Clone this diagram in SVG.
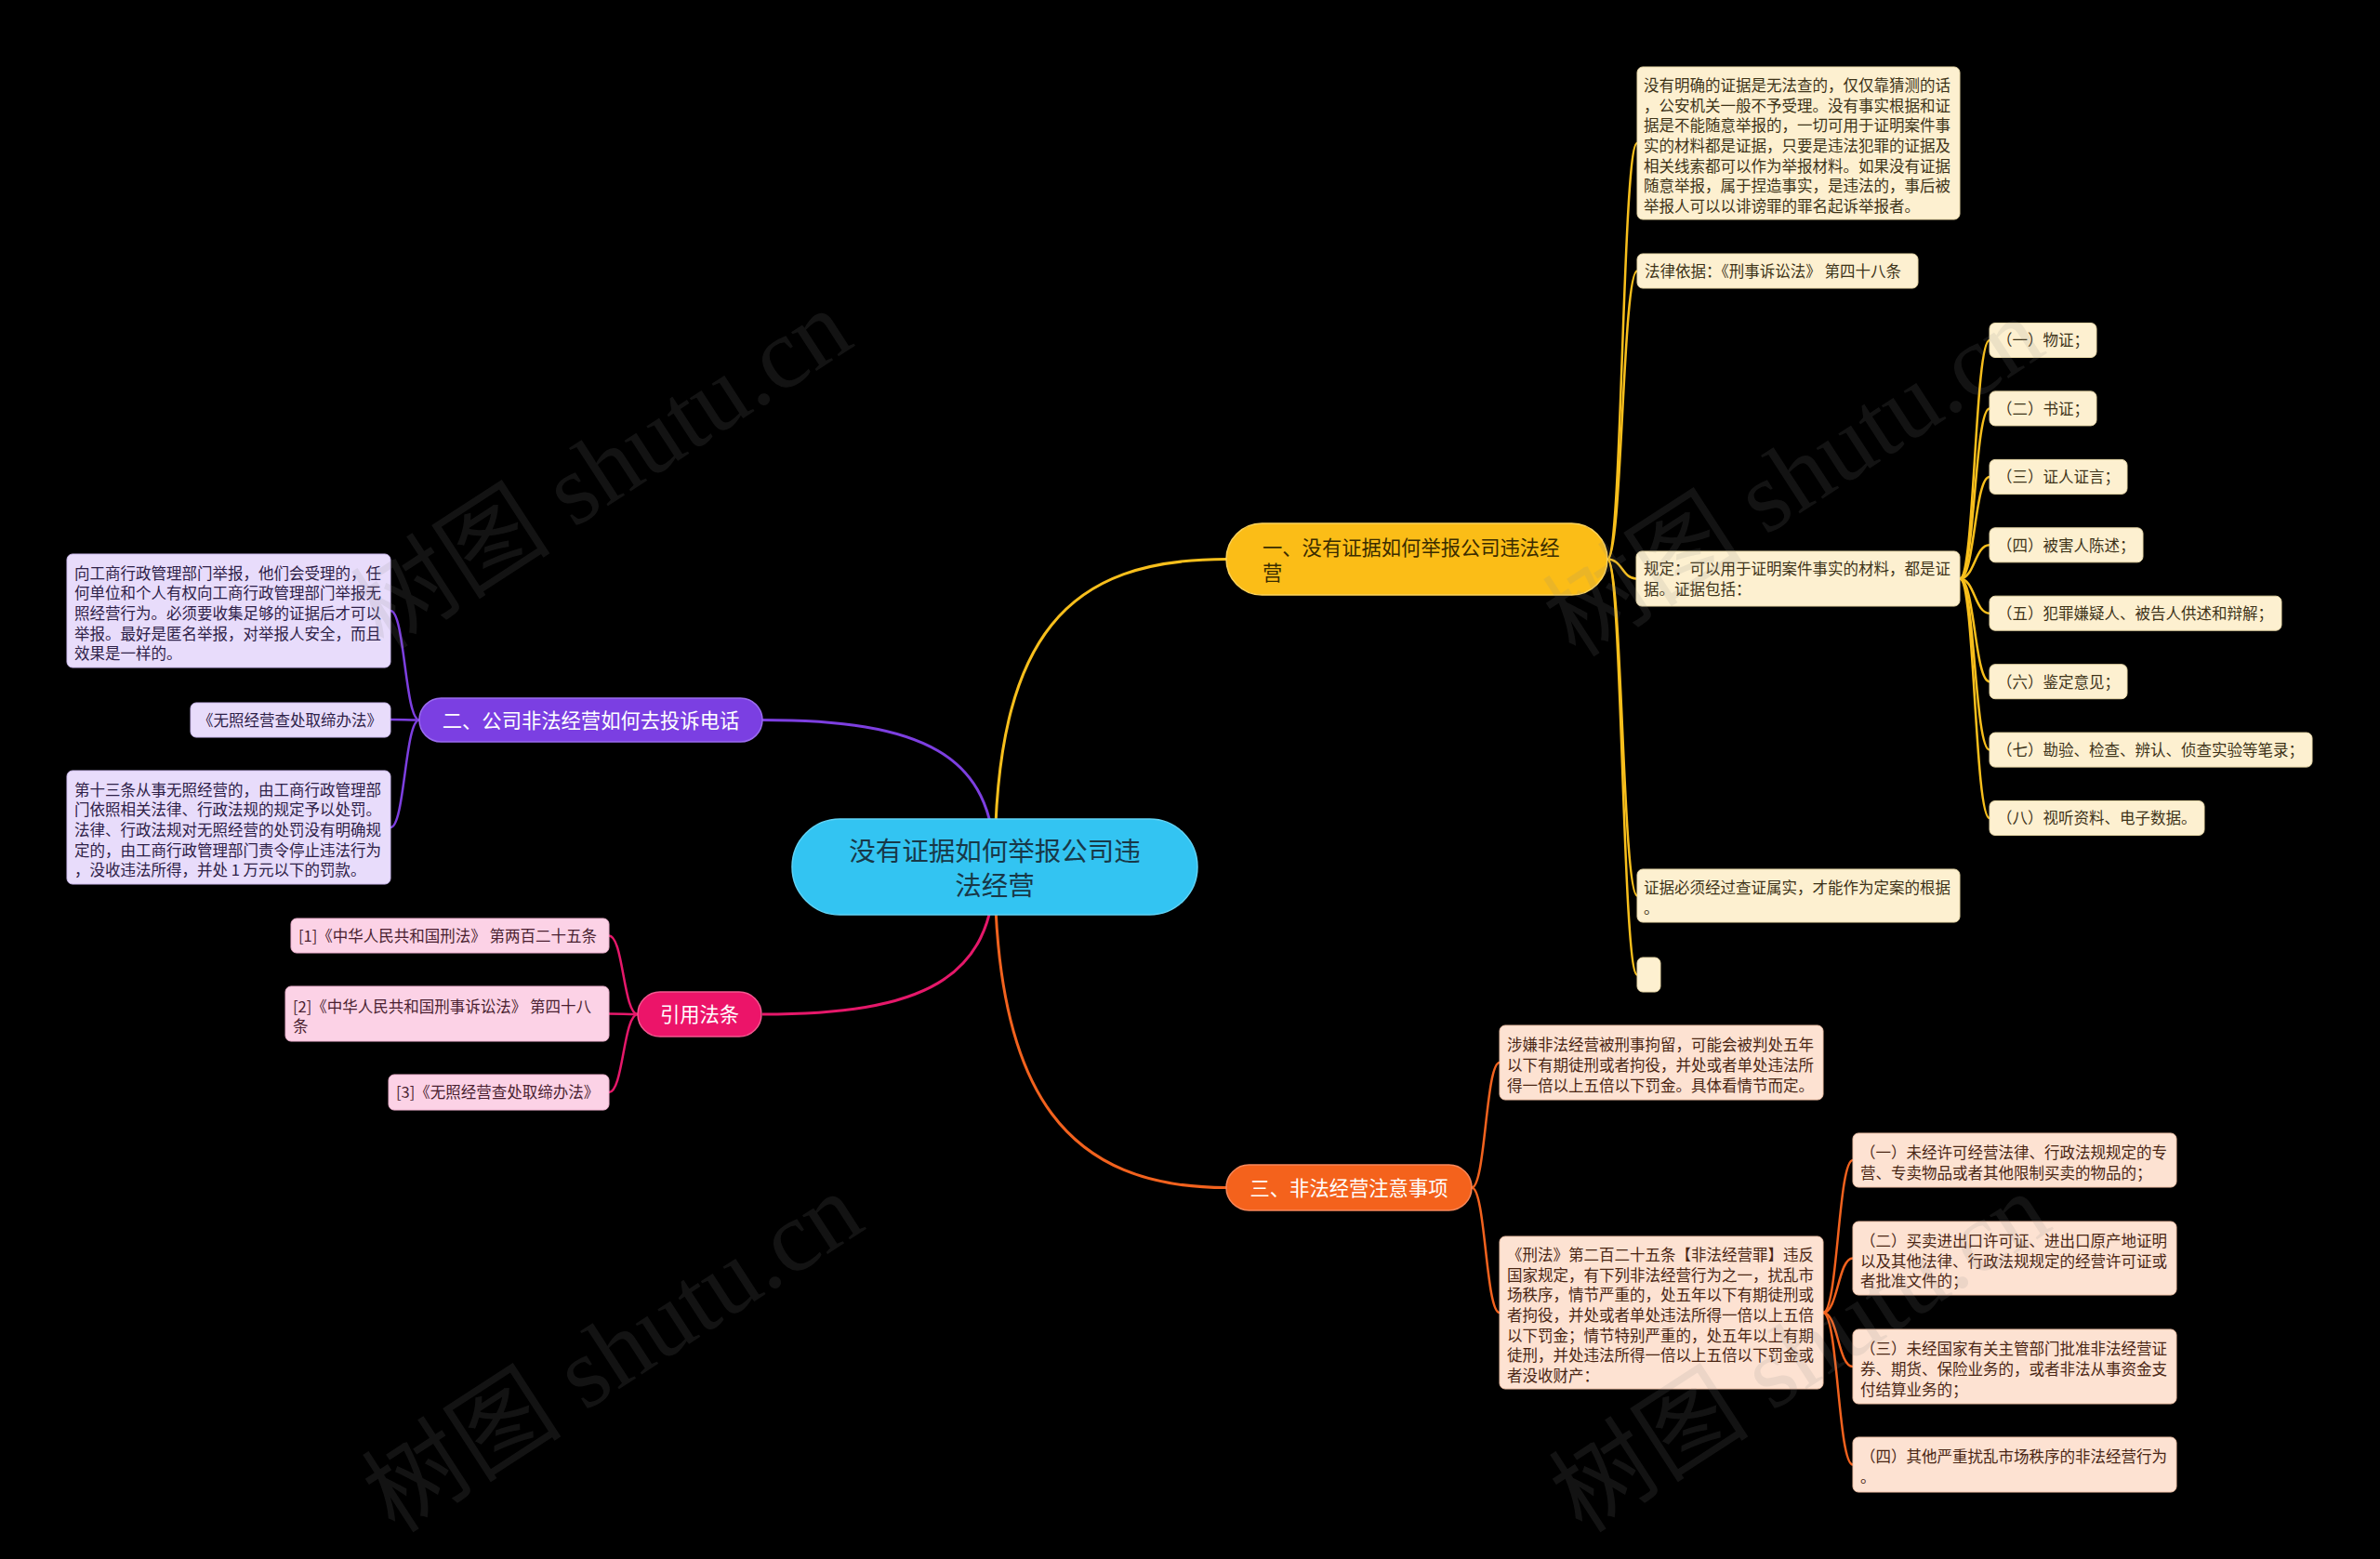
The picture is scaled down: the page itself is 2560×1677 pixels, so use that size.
<svg xmlns="http://www.w3.org/2000/svg" width="2560" height="1677" viewBox="0 0 2560 1677">
<style>
text{font-family:"Noto Sans CJK SC","Noto Sans",sans-serif;}
.s{font-size:16.5px;}
.m{font-size:21.3px;}
.yb{fill:#fdf0d0;stroke:#e8d8a8;stroke-width:1;}
.pb{fill:#e8dcfb;stroke:#cdbbef;stroke-width:1;}
.kb{fill:#fcd2e6;stroke:#eeb2cf;stroke-width:1;}
.ob{fill:#fde2d2;stroke:#f0c2a8;stroke-width:1;}
.yt{fill:#3d3318;}
.pt{fill:#2e2148;}
.kt{fill:#4a1f30;}
.ot{fill:#4a2614;}
.wt{fill:#ffffff;}
.cy{fill:none;stroke:#f8bf1c;stroke-width:2.5;}
.cp{fill:none;stroke:#7d3fe0;stroke-width:2.5;}
.ck{fill:none;stroke:#e5186a;stroke-width:2.5;}
.co{fill:none;stroke:#f2621e;stroke-width:2.5;}
.wm{font-family:"Liberation Serif","Noto Sans CJK SC",serif;font-size:108px;fill:#8a8a8a;opacity:0.14;}
</style>
<rect x="0" y="0" width="2560" height="1677" fill="#000000"/>

<g id="connectors">
  <path class="cy" style="stroke-width:3" d="M1070 932 C1070 680 1150 601.5 1319 601.5"/>
  <path class="cp" style="stroke-width:3" d="M1070 932 C1070 810 990 774.5 820 774.5"/>
  <path class="ck" style="stroke-width:3" d="M1070 932 C1070 1055 990 1091 820 1091"/>
  <path class="co" style="stroke-width:3" d="M1070 932 C1070 1180 1150 1277.5 1319 1277.5"/>

  <path class="cy" d="M1729 601.5 C1745 601.5 1745 154 1761 154"/>
  <path class="cy" d="M1729 601.5 C1745 601.5 1745 291.5 1761 291.5"/>
  <path class="cy" d="M1729 601.5 C1745 601.5 1745 622.5 1760 622.5"/>
  <path class="cy" d="M1729 601.5 C1745 601.5 1745 963.5 1761 963.5"/>
  <path class="cy" d="M1729 601.5 C1745 601.5 1745 1048.5 1761 1048.5"/>

  <path class="cy" d="M2108 622.5 C2124 622.5 2124 366 2140 366"/>
  <path class="cy" d="M2108 622.5 C2124 622.5 2124 439.4 2140 439.4"/>
  <path class="cy" d="M2108 622.5 C2124 622.5 2124 512.9 2140 512.9"/>
  <path class="cy" d="M2108 622.5 C2124 622.5 2124 586.3 2140 586.3"/>
  <path class="cy" d="M2108 622.5 C2124 622.5 2124 659.7 2140 659.7"/>
  <path class="cy" d="M2108 622.5 C2124 622.5 2124 733.2 2140 733.2"/>
  <path class="cy" d="M2108 622.5 C2124 622.5 2124 806.6 2140 806.6"/>
  <path class="cy" d="M2108 622.5 C2124 622.5 2124 880 2140 880"/>

  <path class="cp" d="M451 774.5 C435.5 774.5 435.5 657 420 657"/>
  <path class="cp" d="M451 774.5 C435.5 774.5 435.5 774 420 774"/>
  <path class="cp" d="M451 774.5 C435.5 774.5 435.5 890 420 890"/>

  <path class="ck" d="M686 1091 C670.5 1091 670.5 1006.5 655 1006.5"/>
  <path class="ck" d="M686 1091 C670.5 1091 670.5 1090.5 655 1090.5"/>
  <path class="ck" d="M686 1091 C670.5 1091 670.5 1175 655 1175"/>

  <path class="co" d="M1583 1277.5 C1598 1277.5 1598 1143 1613 1143"/>
  <path class="co" d="M1583 1277.5 C1598 1277.5 1598 1412 1613 1412"/>

  <path class="co" d="M1961 1412 C1977 1412 1977 1248 1993 1248"/>
  <path class="co" d="M1961 1412 C1977 1412 1977 1353.5 1993 1353.5"/>
  <path class="co" d="M1961 1412 C1977 1412 1977 1470 1993 1470"/>
  <path class="co" d="M1961 1412 C1977 1412 1977 1575.5 1993 1575.5"/>
</g>

<g id="root">
  <rect x="852" y="881" width="436" height="103" rx="51.5" fill="#33c4f2" stroke="#5fd3f6" stroke-width="1.5"/>
  <text x="1070" text-anchor="middle" style="font-size:28.5px;fill:#183848"><tspan x="1070" y="926">没有证据如何举报公司违</tspan><tspan x="1070" y="963">法经营</tspan></text>
</g>

<g id="b1">
  <rect x="1319" y="563" width="410" height="77" rx="38.5" fill="#fbbd17" stroke="#fdd35a" stroke-width="1.5"/>
  <text class="m" x="1358" y="597" style="fill:#3a2c00">一、没有证据如何举报公司违法经</text>
  <text class="m" x="1358" y="624" style="fill:#3a2c00">营</text>
</g>
<g id="b1c1">
  <rect class="yb" x="1761" y="72" width="347" height="164" rx="6"/>
  <text class="s yt"><tspan x="1768" y="98">没有明确的证据是无法查的，仅仅靠猜测的话</tspan><tspan x="1768" y="119.7">，公安机关一般不予受理。没有事实根据和证</tspan><tspan x="1768" y="141.3">据是不能随意举报的，一切可用于证明案件事</tspan><tspan x="1768" y="163">实的材料都是证据，只要是违法犯罪的证据及</tspan><tspan x="1768" y="184.7">相关线索都可以作为举报材料。如果没有证据</tspan><tspan x="1768" y="206.3">随意举报，属于捏造事实，是违法的，事后被</tspan><tspan x="1768" y="228">举报人可以以诽谤罪的罪名起诉举报者。</tspan></text>
</g>
<g id="b1c2">
  <rect class="yb" x="1761" y="273" width="302" height="37" rx="6"/>
  <text class="s yt" x="1769" y="298">法律依据：《刑事诉讼法》 第四十八条</text>
</g>
<g id="b1c3">
  <rect class="yb" x="1760" y="593" width="348" height="59" rx="6"/>
  <text class="s yt"><tspan x="1768" y="618">规定：可以用于证明案件事实的材料，都是证</tspan><tspan x="1768" y="639.7">据。证据包括：</tspan></text>
</g>
<g id="b1c3a">
  <rect class="yb" x="2140" y="347.5" width="115" height="37" rx="6"/>
  <text class="s yt" x="2148" y="372.3">（一）物证；</text>
</g>
<g id="b1c3b">
  <rect class="yb" x="2140" y="420.9" width="115" height="37" rx="6"/>
  <text class="s yt" x="2148" y="445.7">（二）书证；</text>
</g>
<g id="b1c3c">
  <rect class="yb" x="2140" y="494.4" width="148" height="37" rx="6"/>
  <text class="s yt" x="2148" y="519.2">（三）证人证言；</text>
</g>
<g id="b1c3d">
  <rect class="yb" x="2140" y="567.8" width="165" height="37" rx="6"/>
  <text class="s yt" x="2148" y="592.6">（四）被害人陈述；</text>
</g>
<g id="b1c3e">
  <rect class="yb" x="2140" y="641.2" width="314" height="37" rx="6"/>
  <text class="s yt" x="2148" y="666">（五）犯罪嫌疑人、被告人供述和辩解；</text>
</g>
<g id="b1c3f">
  <rect class="yb" x="2140" y="714.7" width="148" height="37" rx="6"/>
  <text class="s yt" x="2148" y="739.5">（六）鉴定意见；</text>
</g>
<g id="b1c3g">
  <rect class="yb" x="2140" y="788.1" width="347" height="37" rx="6"/>
  <text class="s yt" x="2148" y="812.9">（七）勘验、检查、辨认、侦查实验等笔录；</text>
</g>
<g id="b1c3h">
  <rect class="yb" x="2140" y="861.5" width="231" height="37" rx="6"/>
  <text class="s yt" x="2148" y="886.3">（八）视听资料、电子数据。</text>
</g>
<g id="b1c4">
  <rect class="yb" x="1761" y="935" width="347" height="57" rx="6"/>
  <text class="s yt"><tspan x="1768" y="961">证据必须经过查证属实，才能作为定案的根据</tspan><tspan x="1768" y="982.7">。</tspan></text>
</g>
<g id="b1c5">
  <rect class="yb" x="1761" y="1030" width="25" height="37" rx="6"/>
</g>

<g id="b2">
  <rect x="451" y="751" width="369" height="47" rx="23.5" fill="#7b3fe2" stroke="#9a6bef" stroke-width="1.5"/>
  <text class="m wt" x="635.5" y="782.6" text-anchor="middle">二、公司非法经营如何去投诉电话</text>
</g>
<g id="b2c1">
  <rect class="pb" x="72" y="596" width="348" height="122" rx="6"/>
  <text class="s pt"><tspan x="80" y="622.6">向工商行政管理部门举报，他们会受理的，任</tspan><tspan x="80" y="644.3">何单位和个人有权向工商行政管理部门举报无</tspan><tspan x="80" y="666">照经营行为。必须要收集足够的证据后才可以</tspan><tspan x="80" y="687.6">举报。最好是匿名举报，对举报人安全，而且</tspan><tspan x="80" y="709.3">效果是一样的。</tspan></text>
</g>
<g id="b2c2">
  <rect class="pb" x="205" y="756" width="215" height="37" rx="6"/>
  <text class="s pt" x="213" y="780.5">《无照经营查处取缔办法》</text>
</g>
<g id="b2c3">
  <rect class="pb" x="72" y="829" width="348" height="122" rx="6"/>
  <text class="s pt"><tspan x="80" y="855.6">第十三条从事无照经营的，由工商行政管理部</tspan><tspan x="80" y="877.3">门依照相关法律、行政法规的规定予以处罚。</tspan><tspan x="80" y="899">法律、行政法规对无照经营的处罚没有明确规</tspan><tspan x="80" y="920.6">定的，由工商行政管理部门责令停止违法行为</tspan><tspan x="80" y="942.3">，没收违法所得，并处 1 万元以下的罚款。</tspan></text>
</g>

<g id="b4">
  <rect x="686" y="1067" width="133" height="48" rx="24" fill="#ec1469" stroke="#f2578f" stroke-width="1.5"/>
  <text class="m wt" x="752.5" y="1099" text-anchor="middle">引用法条</text>
</g>
<g id="b4c1">
  <rect class="kb" x="313" y="988" width="342" height="37" rx="6"/>
  <text class="s kt" x="321" y="1012.8">[1]《中华人民共和国刑法》 第两百二十五条</text>
</g>
<g id="b4c2">
  <rect class="kb" x="307" y="1061" width="348" height="59" rx="6"/>
  <text class="s kt"><tspan x="315" y="1088.7">[2]《中华人民共和国刑事诉讼法》 第四十八</tspan><tspan x="315" y="1110.3">条</tspan></text>
</g>
<g id="b4c3">
  <rect class="kb" x="418" y="1156" width="237" height="38" rx="6"/>
  <text class="s kt" x="426" y="1181.3">[3]《无照经营查处取缔办法》</text>
</g>

<g id="b3">
  <rect x="1319" y="1253" width="264" height="49" rx="24.5" fill="#f4621c" stroke="#f7875a" stroke-width="1.5"/>
  <text class="m wt" x="1451" y="1285.6" text-anchor="middle">三、非法经营注意事项</text>
</g>
<g id="b3c1">
  <rect class="ob" x="1613" y="1103" width="348" height="80" rx="6"/>
  <text class="s ot"><tspan x="1621" y="1130.3">涉嫌非法经营被刑事拘留，可能会被判处五年</tspan><tspan x="1621" y="1152">以下有期徒刑或者拘役，并处或者单处违法所</tspan><tspan x="1621" y="1173.7">得一倍以上五倍以下罚金。具体看情节而定。</tspan></text>
</g>
<g id="b3c2">
  <rect class="ob" x="1613" y="1330" width="348" height="164" rx="6"/>
  <text class="s ot"><tspan x="1621" y="1356">《刑法》第二百二十五条【非法经营罪】违反</tspan><tspan x="1621" y="1377.7">国家规定，有下列非法经营行为之一，扰乱市</tspan><tspan x="1621" y="1399.3">场秩序，情节严重的，处五年以下有期徒刑或</tspan><tspan x="1621" y="1421">者拘役，并处或者单处违法所得一倍以上五倍</tspan><tspan x="1621" y="1442.7">以下罚金；情节特别严重的，处五年以上有期</tspan><tspan x="1621" y="1464.3">徒刑，并处违法所得一倍以上五倍以下罚金或</tspan><tspan x="1621" y="1486">者没收财产：</tspan></text>
</g>
<g id="b3c2a">
  <rect class="ob" x="1993" y="1219" width="348" height="58" rx="6"/>
  <text class="s ot"><tspan x="2001" y="1246.2">（一）未经许可经营法律、行政法规规定的专</tspan><tspan x="2001" y="1267.8">营、专卖物品或者其他限制买卖的物品的；</tspan></text>
</g>
<g id="b3c2b">
  <rect class="ob" x="1993" y="1314" width="348" height="79" rx="6"/>
  <text class="s ot"><tspan x="2001" y="1340.8">（二）买卖进出口许可证、进出口原产地证明</tspan><tspan x="2001" y="1362.5">以及其他法律、行政法规规定的经营许可证或</tspan><tspan x="2001" y="1384.2">者批准文件的；</tspan></text>
</g>
<g id="b3c2c">
  <rect class="ob" x="1993" y="1430" width="348" height="80" rx="6"/>
  <text class="s ot"><tspan x="2001" y="1457.3">（三）未经国家有关主管部门批准非法经营证</tspan><tspan x="2001" y="1479">券、期货、保险业务的，或者非法从事资金支</tspan><tspan x="2001" y="1500.7">付结算业务的；</tspan></text>
</g>
<g id="b3c2d">
  <rect class="ob" x="1993" y="1546" width="348" height="59" rx="6"/>
  <text class="s ot"><tspan x="2001" y="1572.8">（四）其他严重扰乱市场秩序的非法经营行为</tspan><tspan x="2001" y="1594.5">。</tspan></text>
</g>

<g id="watermarks">
  <text class="wm" x="653" y="540" text-anchor="middle" transform="rotate(-33 653 514)">树图 shutu.cn</text>
  <text class="wm" x="1935" y="548" text-anchor="middle" transform="rotate(-33 1935 522)">树图 shutu.cn</text>
  <text class="wm" x="665" y="1490" text-anchor="middle" transform="rotate(-33 665 1464)">树图 shutu.cn</text>
  <text class="wm" x="1942" y="1490" text-anchor="middle" transform="rotate(-33 1942 1464)">树图 shutu.cn</text>
</g>
</svg>
